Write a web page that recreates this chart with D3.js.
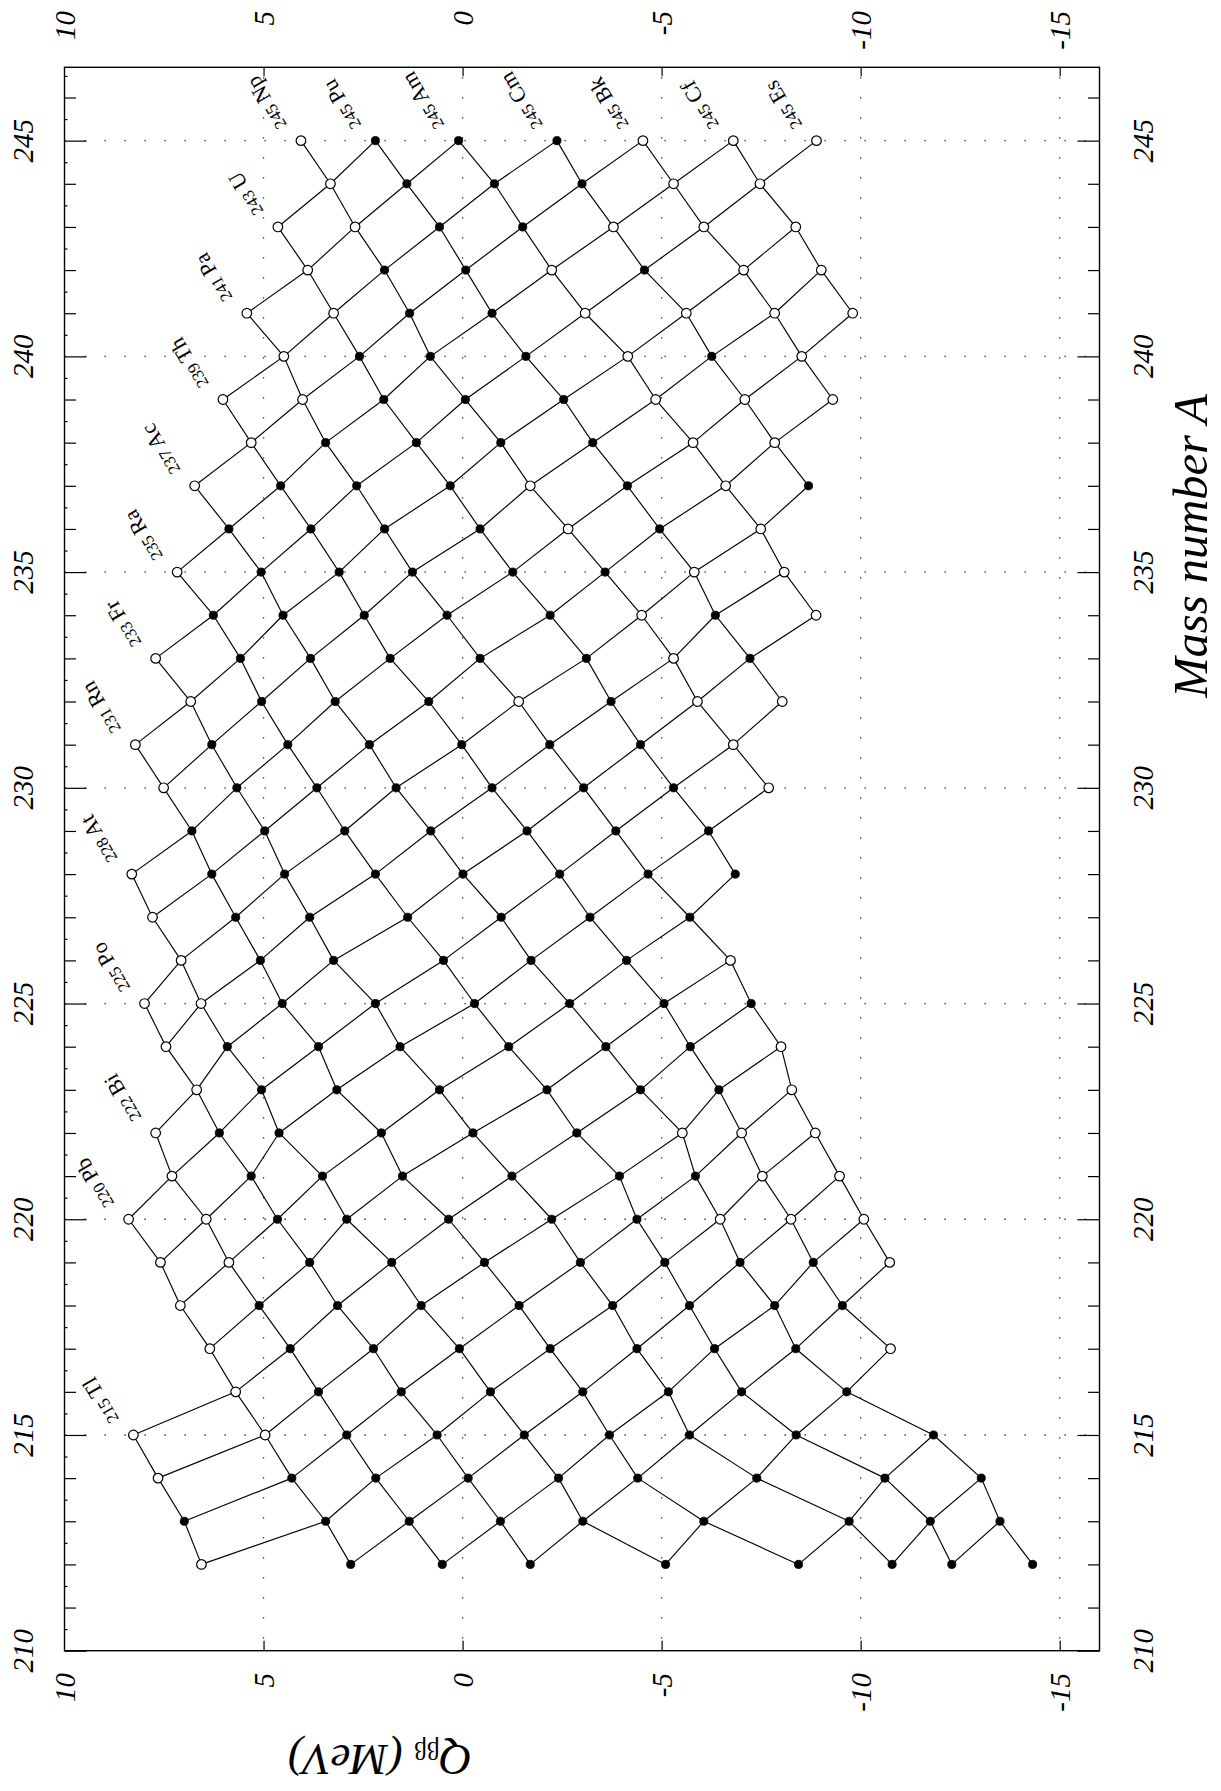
<!DOCTYPE html>
<html>
<head>
<meta charset="utf-8">
<script src="https://cdn.jsdelivr.net/npm/d3@7"></script>
<style>
  html, body { margin: 0; padding: 0; background: #fff; }
  svg { display: block; }
</style>
</head>
<body>
<svg id="chart" width="1221" height="1791"></svg>
<script>
// ---------------- DATA ----------------
const elementSymbols = ["Tl","Pb","Bi","Po","At","Rn","Fr","Ra","Ac","Th","Pa","U","Np","Pu","Am","Cm","Bk","Cf","Es"]; // Z = 81..99
const firstElementZ = 81;

// One row per mass number: first Z of the row, Q_bb values (MeV) by increasing Z, measured (1) / estimated (0)
const rowA  = [245, 244, 243, 242, 241, 240, 239, 238, 237, 236, 235, 234, 233, 232, 231, 230, 229,
               228, 227, 226, 225, 224, 223, 222, 221, 220, 219, 218, 217, 216, 215, 214, 213, 212];
const rowZ0 = [93, 93, 92, 92, 91, 91, 90, 90, 89, 89, 88, 88, 87, 87, 86, 86, 86,
               85, 85, 85, 84, 84, 84, 83, 83, 82, 82, 82, 82, 82, 81, 81, 81, 81];
const rowQ = [
  [4.06, 2.19, 0.10, -2.37, -4.53, -6.80, -8.89],
  [3.32, 1.40, -0.80, -3.00, -5.30, -7.47],
  [4.64, 2.70, 0.58, -1.51, -3.79, -6.06, -8.37],
  [3.89, 1.96, -0.08, -2.24, -4.57, -7.06, -9.01],
  [5.42, 3.24, 1.33, -0.74, -3.08, -5.62, -7.84, -9.80],
  [4.49, 2.59, 0.81, -1.59, -4.15, -6.26, -8.52],
  [6.02, 4.02, 1.98, -0.07, -2.54, -4.85, -7.09, -9.30],
  [5.31, 3.44, 1.16, -0.96, -3.27, -5.79, -7.84],
  [6.73, 4.57, 2.66, 0.31, -1.70, -4.14, -6.61, -8.69],
  [5.87, 3.81, 1.96, -0.44, -2.65, -4.95, -7.49],
  [7.17, 5.06, 3.10, 1.26, -1.26, -3.58, -5.82, -8.08],
  [6.26, 4.51, 2.47, 0.39, -2.20, -4.50, -6.35, -8.88],
  [7.71, 5.58, 3.82, 1.82, -0.44, -3.11, -5.30, -7.22],
  [6.83, 5.05, 3.20, 0.85, -1.41, -3.73, -5.90, -8.03],
  [8.22, 6.30, 4.39, 2.34, 0.02, -2.19, -4.47, -6.80],
  [7.51, 5.67, 3.66, 1.67, -0.74, -3.04, -5.30, -7.69],
  [6.80, 4.97, 2.96, 0.80, -1.62, -3.85, -6.18],
  [8.31, 6.30, 4.47, 2.19, -0.01, -2.44, -4.66, -6.85],
  [7.79, 5.70, 3.84, 1.38, -0.97, -3.20, -5.71],
  [7.07, 5.08, 3.24, 0.48, -1.72, -4.12, -6.73],
  [7.99, 6.57, 4.53, 2.19, -0.30, -2.69, -5.06, -7.25],
  [7.45, 5.91, 3.62, 1.57, -1.16, -3.60, -5.72, -8.00],
  [6.68, 5.05, 3.16, 0.58, -2.12, -4.47, -6.44, -8.27],
  [7.71, 6.11, 4.61, 2.04, -0.26, -2.87, -5.52, -7.01, -8.86],
  [7.30, 5.31, 3.52, 1.51, -1.24, -3.94, -5.85, -7.53, -9.47],
  [8.39, 6.44, 4.65, 2.91, 0.35, -2.24, -4.38, -6.47, -8.25, -10.08],
  [7.59, 5.87, 3.84, 1.78, -0.55, -2.96, -5.08, -6.97, -8.81, -10.73],
  [7.09, 5.11, 3.14, 1.04, -1.42, -3.77, -5.70, -7.84, -9.54],
  [6.35, 4.33, 2.24, 0.08, -2.20, -4.38, -6.33, -8.37, -10.75],
  [5.70, 3.62, 1.54, -0.70, -3.02, -5.17, -7.01, -9.65],
  [8.27, 4.96, 2.91, 0.64, -1.55, -3.69, -5.70, -8.38, -11.83],
  [7.65, 4.29, 2.18, -0.14, -2.41, -4.40, -7.39, -10.61, -13.03],
  [6.99, 3.44, 1.34, -0.95, -3.02, -6.06, -9.71, -11.75, -13.50],
  [6.56, 2.81, 0.51, -1.70, -5.10, -8.44, -10.79, -12.29, -14.32]
];
const rowMeasured = [
  "0111000", "011100", "0011000", "0110100", "00110000", "0111010", "00111000", "0111100",
  "01110101", "1111010", "01111100", "11111010", "01111101", "01110100", "01111110", "01111110",
  "1111111", "01111111", "0111111", "0111110", "00111111", "01111110", "01111110", "011111000",
  "011111100", "0011111000", "0011111110", "011111111", "011111110", "01111111", "001111111",
  "011111111", "111111111", "011111111"
];

// Chain labels (mass number, element)
const labelA   = [215, 220, 222, 225, 228, 231, 233, 235, 237, 239, 241, 243, 245, 245, 245, 245, 245, 245, 245];
const labelSym = ["Tl","Pb","Bi","Po","At","Rn","Fr","Ra","Ac","Th","Pa","U","Np","Pu","Am","Cm","Bk","Cf","Es"];

// Axes
const qTicks = [10, 5, 0, -5, -10, -15];
const qGrid  = [5, 0, -5, -10, -15];
const aTicks = [210, 215, 220, 225, 230, 235, 240, 245];
const aGrid  = [215, 220, 225, 230, 235, 240, 245];
const xTitle = "Mass number A";
const yTitleMain = "Q", yTitleSub = "ββ", yTitleUnit = " (MeV)";

// ---------------- BUILD ----------------
const svg = d3.select("#chart");
const x = d3.scaleLinear().domain([10, -16]).range([64.5, 1099.5]);   // Q (horizontal)
const y = d3.scaleLinear().domain([210, 246.7]).range([1650.7, 67.3]); // A (vertical)
const [x0, x1] = x.range();
const [yB, yT] = y.range();

// node lookup
const nodes = [];
const byKey = new Map();
rowA.forEach((A, i) => {
  rowQ[i].forEach((q, j) => {
    const Z = rowZ0[i] + j;
    const n = {A, Z, q, measured: rowMeasured[i][j] === "1"};
    nodes.push(n);
    byKey.set(A + "_" + Z, n);
  });
});

// gridlines
const grid = svg.append("g").attr("stroke", "#222").attr("stroke-width", 1.3)
  .attr("stroke-dasharray", "1.3,18.7").attr("fill", "none");
grid.selectAll("line.v").data(qGrid).join("line").attr("class", "v")
  .attr("x1", d => x(d)).attr("x2", d => x(d)).attr("y1", yT).attr("y2", yB)
  .attr("stroke-dashoffset", -10);
grid.selectAll("line.h").data(aGrid).join("line").attr("class", "h")
  .attr("x1", x0).attr("x2", x1).attr("y1", d => y(d)).attr("y2", d => y(d))
  .attr("stroke-dashoffset", -40);

// ticks via d3 axes (inward)
function tickAxis(axisFn, scale, values, size, tx, ty) {
  const g = svg.append("g").attr("transform", `translate(${tx},${ty})`)
    .call(axisFn(scale).tickValues(values).tickSize(size).tickFormat(""));
  g.select(".domain").remove();
  g.selectAll(".tick line").attr("stroke", "#000").attr("stroke-width", 1.2);
  return g;
}
const unitA = d3.range(211, 247).filter(a => a % 5 !== 0);
const halfA = d3.range(210.5, 246.6, 1);
tickAxis(d3.axisLeft, y, aTicks, -22, x0, 0);
tickAxis(d3.axisLeft, y, unitA, -11.5, x0, 0);
tickAxis(d3.axisLeft, y, halfA, -3, x0, 0);
tickAxis(d3.axisRight, y, aTicks, -22, x1, 0);
tickAxis(d3.axisRight, y, unitA, -11.5, x1, 0);
tickAxis(d3.axisTop, x, qGrid, -9, 0, yT);
tickAxis(d3.axisBottom, x, qGrid, -10, 0, yB);

// frame
svg.append("rect").attr("x", x0).attr("y", yT).attr("width", x1 - x0).attr("height", yB - yT)
  .attr("fill", "none").attr("stroke", "#000").attr("stroke-width", 1.4);

// connecting lines: same Z (A -> A+1) and (A,Z) -> (A+1,Z+1)
const links = [];
nodes.forEach(n => {
  const a = byKey.get((n.A + 1) + "_" + n.Z);
  const b = byKey.get((n.A + 1) + "_" + (n.Z + 1));
  if (a) links.push([n, a]);
  if (b) links.push([n, b]);
});
svg.append("g").attr("stroke", "#000").attr("stroke-width", 1.15)
  .selectAll("line").data(links).join("line")
  .attr("x1", d => x(d[0].q)).attr("y1", d => y(d[0].A))
  .attr("x2", d => x(d[1].q)).attr("y2", d => y(d[1].A));

// points
svg.append("g").selectAll("circle").data(nodes).join("circle")
  .attr("cx", d => x(d.q)).attr("cy", d => y(d.A))
  .attr("r", d => d.measured ? 4.1 : 4.8)
  .attr("fill", d => d.measured ? "#000" : "#fff")
  .attr("stroke", "#000").attr("stroke-width", d => d.measured ? 0.8 : 1.2);

// chain labels
const lab = svg.append("g").attr("font-family", "'Liberation Serif', 'Times New Roman', serif").attr("fill", "#000");
labelA.forEach((A, i) => {
  const Z = firstElementZ + elementSymbols.indexOf(labelSym[i]);
  const n = byKey.get(A + "_" + Z);
  if (!n) return;
  const px = x(n.q) - 14, py = y(n.A) - 16;
  const t = lab.append("text").attr("x", px).attr("y", py)
    .attr("transform", `rotate(-120,${px},${py})`);
  t.append("tspan").attr("font-size", 17).text(A);
  t.append("tspan").attr("font-size", 22).text(" " + labelSym[i]);
});

// tick labels
const tl = svg.append("g").attr("font-family", "'Liberation Serif', 'Times New Roman', serif")
  .attr("font-style", "italic").attr("font-size", 29).attr("fill", "#000");
aTicks.forEach(a => {
  [33, 1153].forEach(bx => {
    tl.append("text").attr("x", bx).attr("y", y(a)).attr("text-anchor", "middle")
      .attr("transform", `rotate(-90,${bx},${y(a)})`).text(a);
  });
});
qTicks.forEach(q => {
  const bx = x(q) + 10;
  [11, 1673].forEach(by => {
    tl.append("text").attr("x", bx).attr("y", by).attr("text-anchor", "end")
      .attr("transform", `rotate(-90,${bx},${by})`).text(q);
  });
});

// axis titles
const tt = svg.append("g").attr("font-family", "'Liberation Serif', 'Times New Roman', serif").attr("fill", "#000");
tt.append("text").attr("x", 1207).attr("y", 546).attr("text-anchor", "middle")
  .attr("font-style", "italic").attr("font-size", 48.5)
  .attr("transform", "rotate(-90,1207,546)").text(xTitle);
const qt = tt.append("text").attr("x", 380).attr("y", 1745).attr("text-anchor", "middle")
  .attr("font-size", 45).attr("transform", "rotate(180,380,1745)");
qt.append("tspan").attr("font-style", "italic").text(yTitleMain);
qt.append("tspan").attr("font-size", 25).attr("dy", 3).text(yTitleSub);
qt.append("tspan").attr("font-style", "italic").attr("dy", -3).text(yTitleUnit);
</script>
</body>
</html>
